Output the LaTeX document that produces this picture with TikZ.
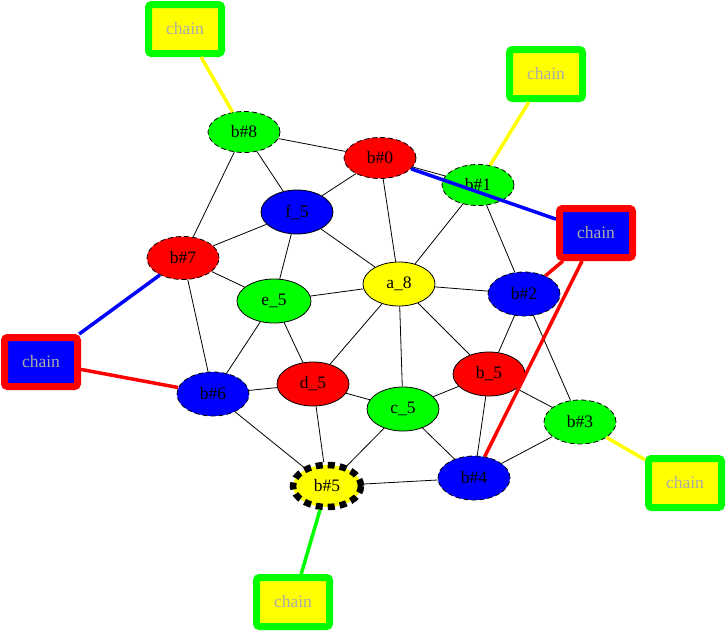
\documentclass[tikz,border=0pt]{standalone}
\usepackage{fontspec}
\setmainfont{Liberation Serif}
\usetikzlibrary{shapes.geometric,backgrounds}
\definecolor{gvred}{HTML}{FF0000}
\definecolor{gvgreen}{HTML}{00FF00}
\definecolor{gvblue}{HTML}{0000FF}
\definecolor{gvyellow}{HTML}{FFFF00}
\definecolor{chaintext}{HTML}{ABABAB}

\begin{document}
\begin{tikzpicture}[
  x=1pt,
  y=-1pt,
  font=\fontsize{17.5}{20}\selectfont,
  vertex/.style={
    ellipse,
    draw=black,
    line width=0.8pt,
    inner sep=0pt,
    minimum width=72pt,
    minimum height=44pt
  },
  hub/.style={
    vertex,
    dash pattern=on 5pt off 3pt
  },
  chainbox/.style 2 args={
    draw=#1,
    fill=#2,
    line width=7pt,
    rounded corners=3pt,
    inner sep=0pt,
    minimum width=73pt,
    minimum height=49pt,
    text=chaintext
  },
  link/.style={draw=black, line width=0.8pt},
  tie/.style={line width=3.5pt}
]
\useasboundingbox (0,0) rectangle (726,633);

% inner vertices
\node[vertex, fill=gvyellow] (a8) at (399,284) {a\_8};
\node[vertex, fill=gvblue] (f5) at (297,212) {f\_5};
\node[vertex, fill=gvgreen, minimum width=74pt] (e5) at (274,301) {e\_5};
\node[vertex, fill=gvred] (d5) at (313,384) {d\_5};
\node[vertex, fill=gvgreen] (c5) at (403,409) {c\_5};
\node[vertex, fill=gvred] (b5) at (489,374) {b\_5};

% ring vertices
\node[hub, fill=gvred, minimum height=41pt] (bh0) at (380,158) {b\#0};
\node[hub, fill=gvgreen, minimum height=41pt] (bh1) at (478,185) {b\#1};
\node[hub, fill=gvblue] (bh2) at (524,294) {b\#2};
\node[hub, fill=gvgreen] (bh3) at (580,422) {b\#3};
\node[hub, fill=gvblue] (bh4) at (474,478) {b\#4};
\node[vertex, fill=gvyellow, line width=6.5pt, dash pattern=on 7pt off 5pt,
  minimum width=68pt, minimum height=42pt] (bh5) at (327,486) {b\#5};
\node[hub, fill=gvblue] (bh6) at (213,394) {b\#6};
\node[hub, fill=gvred, minimum height=43pt] (bh7) at (183,258) {b\#7};
\node[hub, fill=gvgreen, minimum height=41pt] (bh8) at (244,132) {b\#8};

% chain boxes
\node[chainbox={gvgreen}{gvyellow}] (chA) at (185,29) {chain};
\node[chainbox={gvgreen}{gvyellow}] (chB) at (546,74) {chain};
\node[chainbox={gvred}{gvblue}] (chC) at (596,233) {chain};
\node[chainbox={gvred}{gvblue}] (chD) at (41,362) {chain};
\node[chainbox={gvgreen}{gvyellow}] (chE) at (685,483) {chain};
\node[chainbox={gvgreen}{gvyellow}] (chF) at (293,602) {chain};

% plain edges, behind the vertices
\begin{scope}[on background layer]
\foreach \u/\v in {bh8/bh0, bh8/f5, bh8/bh7, bh0/f5, bh0/a8, bh0/bh1,
    bh1/a8, bh1/bh2, bh7/f5, bh7/e5, bh7/bh6, f5/e5, f5/a8, e5/a8,
    e5/bh6, e5/d5, a8/bh2, a8/b5, a8/c5, a8/d5, bh2/b5, bh2/bh3,
    b5/c5, b5/bh4, b5/bh3, bh3/bh4, d5/bh6, d5/bh5, d5/c5, bh6/bh5,
    c5/bh5, c5/bh4, bh5/bh4}
  \draw[link] (\u) -- (\v);
\end{scope}

% chain ties, on top
\draw[tie, draw=gvyellow] (chA) -- (bh8);
\draw[tie, draw=gvyellow] (chB) -- (bh1);
\draw[tie, draw=gvblue] (chC) -- (bh0);
\draw[tie, draw=gvred] (chC) -- (bh2);
\draw[tie, draw=gvred] (chC) -- (bh4);
\draw[tie, draw=gvblue] (chD) -- (bh7);
\draw[tie, draw=gvred] (chD) -- (bh6);
\draw[tie, draw=gvyellow] (chE) -- (bh3);
\draw[tie, draw=gvgreen] (chF) -- (bh5);

\end{tikzpicture}
\end{document}
